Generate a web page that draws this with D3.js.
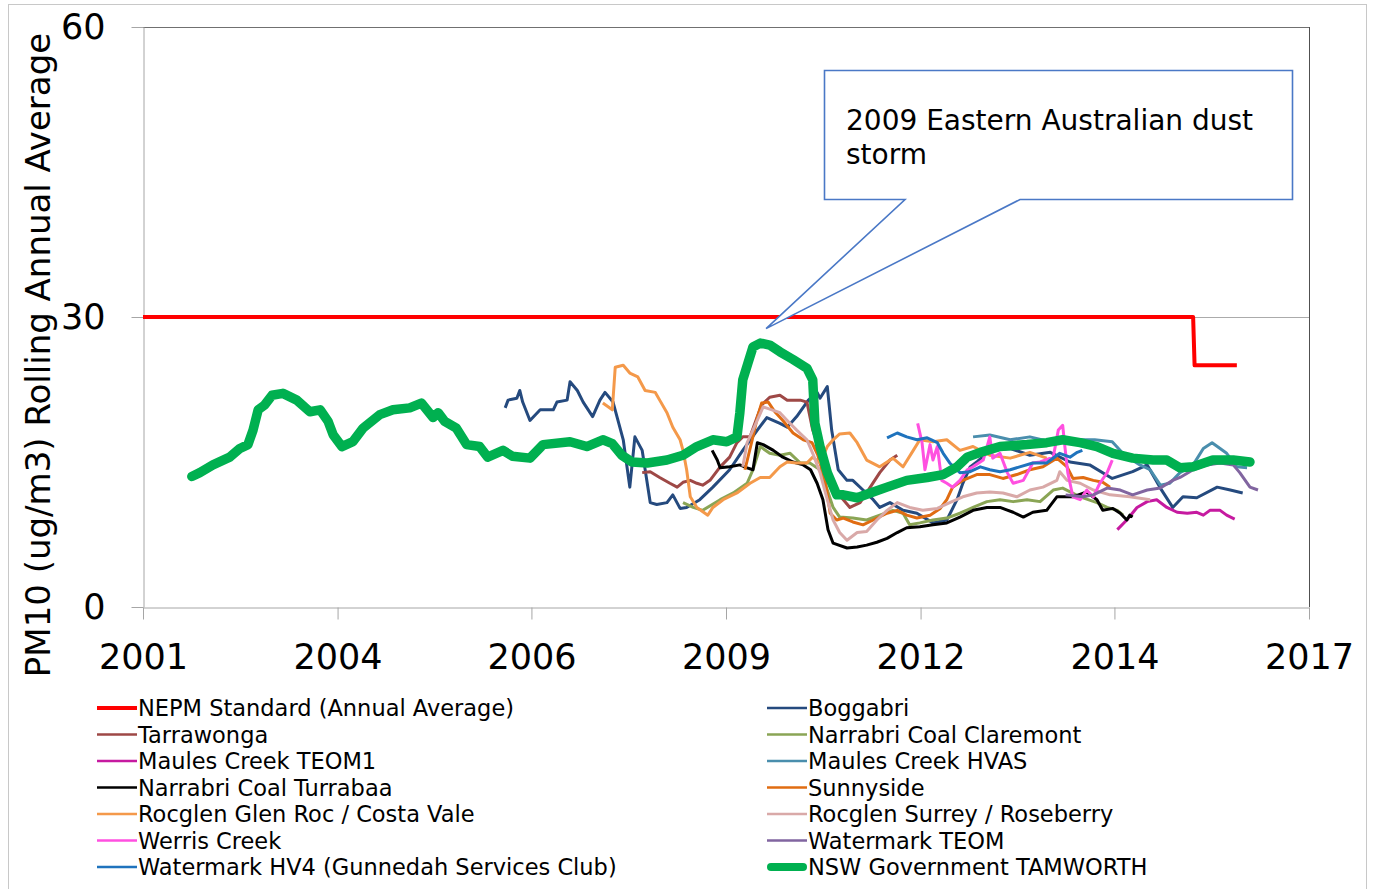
<!DOCTYPE html>
<html>
<head>
<meta charset="utf-8">
<script src="https://cdn.jsdelivr.net/npm/d3@7"></script>
<style>
  body { margin: 0; background: #fff; }
  svg { display: block; font-family: Verdana, "DejaVu Sans", sans-serif; }
</style>
</head>
<body>
<svg width="1374" height="889"></svg>
<script>
// rolling annual average PM10 (decimal year, ug/m3)

var nepm = [[2001.5, 30], [2015.91, 30], [2015.93, 25], [2016.51, 25]];

var tamworth = [[2002.17, 13.5], [2002.28, 13.9], [2002.46, 14.7], [2002.69, 15.5], [2002.83, 16.4], [2002.94, 16.8],
    [2003.01, 18.3], [2003.08, 20.4], [2003.17, 20.9], [2003.27, 21.9], [2003.42, 22.1], [2003.61, 21.4], [2003.79, 20.2],
    [2003.93, 20.4], [2004.04, 19.2], [2004.11, 17.8], [2004.23, 16.6], [2004.38, 17.1], [2004.52, 18.5], [2004.75, 19.9],
    [2004.93, 20.4], [2005.16, 20.6], [2005.32, 21.1], [2005.48, 19.6], [2005.55, 20.1], [2005.64, 19.2], [2005.80, 18.5],
    [2005.94, 16.8], [2006.12, 16.6], [2006.23, 15.5], [2006.44, 16.2], [2006.57, 15.6], [2006.81, 15.4], [2006.99, 16.8],
    [2007.36, 17.1], [2007.59, 16.6], [2007.81, 17.3], [2007.94, 16.9], [2008.07, 15.7], [2008.21, 15.0], [2008.42, 14.9],
    [2008.69, 15.2], [2008.91, 15.7], [2009.10, 16.6], [2009.32, 17.3], [2009.51, 17.1], [2009.65, 17.6], [2009.69, 20.1],
    [2009.73, 23.5], [2009.80, 25.2], [2009.87, 26.9], [2009.97, 27.3], [2010.10, 27.1], [2010.24, 26.4], [2010.42, 25.6],
    [2010.61, 24.7], [2010.69, 23.5], [2010.72, 19.0], [2010.79, 16.6], [2010.89, 13.9], [2011.02, 11.6], [2011.11, 11.6],
    [2011.30, 11.3], [2011.48, 11.8], [2011.71, 12.4], [2011.98, 13.1], [2012.26, 13.4], [2012.48, 13.7], [2012.67, 14.5],
    [2012.81, 15.5], [2012.99, 16.0], [2013.26, 16.6], [2013.63, 16.8], [2013.90, 17.0], [2014.12, 17.3], [2014.36, 17.0],
    [2014.59, 16.6], [2014.81, 15.9], [2015.08, 15.4], [2015.36, 15.2], [2015.55, 15.2], [2015.73, 14.4], [2015.91, 14.5],
    [2016.18, 15.2], [2016.46, 15.2], [2016.69, 15.0]];

var boggabri = [[2006.47, 20.6], [2006.51, 21.4], [2006.63, 21.6], [2006.67, 22.4], [2006.71, 21.2], [2006.81, 19.3],
    [2006.95, 20.4], [2007.13, 20.4], [2007.18, 21.2], [2007.32, 21.4], [2007.36, 23.3], [2007.46, 22.4], [2007.54, 21.2],
    [2007.67, 19.7], [2007.77, 21.4], [2007.84, 22.2], [2007.95, 21.2], [2008.09, 17.3], [2008.18, 12.4], [2008.25, 17.6],
    [2008.35, 16.2], [2008.46, 10.8], [2008.55, 10.6], [2008.69, 10.8], [2008.77, 11.6], [2008.87, 10.2], [2008.96, 10.3],
    [2009.14, 11.1], [2009.32, 12.4], [2009.55, 14.2], [2009.73, 16.2], [2009.93, 18.3], [2010.06, 19.6], [2010.24, 19.0],
    [2010.34, 18.6], [2010.47, 19.7], [2010.63, 21.4], [2010.75, 22.2], [2010.79, 21.6], [2010.89, 22.8], [2010.95, 18.3],
    [2011.04, 14.2], [2011.16, 13.1], [2011.24, 13.1], [2011.38, 12.1], [2011.52, 11.1], [2011.61, 10.3], [2011.75, 10.8],
    [2011.93, 10.0], [2012.12, 9.7], [2012.34, 8.7], [2012.53, 9.0], [2012.67, 11.1], [2012.75, 12.8], [2012.85, 14.5],
    [2012.94, 15.0], [2013.12, 16.2], [2013.40, 16.4], [2013.67, 15.7], [2013.95, 16.0], [2014.22, 15.0], [2014.49, 14.7],
    [2014.80, 13.3], [2015.08, 14.0], [2015.28, 14.7], [2015.46, 12.3], [2015.63, 10.3], [2015.77, 11.4], [2015.96, 11.3],
    [2016.24, 12.4], [2016.42, 12.1], [2016.59, 11.8]];

var tarrawonga = [[2008.35, 13.9], [2008.46, 14.0], [2008.59, 13.4], [2008.73, 12.8], [2008.83, 12.4], [2008.91, 12.9],
    [2009.01, 13.1], [2009.10, 12.8], [2009.18, 12.6], [2009.28, 13.1], [2009.42, 14.5], [2009.55, 15.5], [2009.65, 17.0],
    [2009.73, 17.6], [2009.83, 17.6], [2009.93, 19.7], [2009.99, 20.9], [2010.10, 21.7], [2010.24, 21.9], [2010.34, 21.4],
    [2010.52, 21.4], [2010.61, 21.2], [2010.69, 18.3], [2010.79, 16.2], [2010.89, 14.2], [2010.99, 12.1], [2011.11, 11.1],
    [2011.20, 10.3], [2011.34, 10.8], [2011.48, 12.4], [2011.61, 13.9], [2011.75, 15.2], [2011.85, 15.7]];

var claremont = [[2008.91, 10.8], [2009.05, 10.3], [2009.18, 10.0], [2009.42, 11.1], [2009.60, 11.8], [2009.79, 12.8],
    [2009.87, 14.2], [2009.97, 16.6], [2010.10, 15.9], [2010.24, 15.7], [2010.38, 15.9], [2010.52, 14.9], [2010.65, 14.9],
    [2010.79, 14.2], [2010.89, 12.1], [2010.97, 10.3], [2011.06, 9.3], [2011.24, 9.2], [2011.43, 9.0], [2011.61, 9.5],
    [2011.79, 10.0], [2011.93, 9.7], [2012.02, 8.5], [2012.16, 8.7], [2012.34, 9.0], [2012.53, 9.2], [2012.71, 9.7],
    [2012.89, 10.3], [2013.08, 10.9], [2013.26, 11.1], [2013.44, 10.9], [2013.63, 11.1], [2013.81, 10.9], [2013.99, 12.1],
    [2014.12, 12.3], [2014.36, 11.4], [2014.59, 10.8], [2014.73, 10.3], [2014.87, 10.0], [2014.95, 9.5]];

var maulesTeom1 = [[2014.87, 8.0], [2015.00, 9.0], [2015.14, 10.3], [2015.28, 10.9], [2015.41, 11.1], [2015.55, 10.3],
    [2015.69, 9.8], [2015.83, 9.7], [2015.96, 9.8], [2016.05, 9.5], [2016.14, 10.0], [2016.28, 10.0], [2016.37, 9.5],
    [2016.48, 9.1]];

var maulesHvas = [[2012.89, 17.6], [2013.12, 17.8], [2013.40, 17.3], [2013.67, 17.6], [2013.95, 17.1], [2014.26, 17.3],
    [2014.56, 17.3], [2014.80, 17.1], [2014.97, 15.7], [2015.18, 14.7], [2015.32, 14.2], [2015.46, 12.6], [2015.59, 12.8],
    [2015.73, 13.9], [2015.91, 14.7], [2016.05, 16.4], [2016.17, 17.0], [2016.28, 16.4], [2016.37, 15.9], [2016.51, 14.5],
    [2016.65, 14.4]];

var turrabaa = [[2009.31, 16.2], [2009.38, 15.2], [2009.42, 14.4], [2009.55, 14.5], [2009.69, 14.7], [2009.79, 14.4],
    [2009.87, 14.2], [2009.93, 17.0], [2010.01, 16.8], [2010.15, 16.2], [2010.28, 15.5], [2010.42, 15.0], [2010.56, 14.7],
    [2010.66, 14.2], [2010.75, 12.8], [2010.83, 11.1], [2010.90, 8.0], [2010.97, 6.6], [2011.16, 6.1], [2011.30, 6.2],
    [2011.43, 6.4], [2011.57, 6.7], [2011.71, 7.1], [2011.85, 7.7], [2011.98, 8.2], [2012.16, 8.3], [2012.34, 8.5],
    [2012.53, 8.7], [2012.71, 9.3], [2012.89, 10.0], [2013.08, 10.3], [2013.26, 10.3], [2013.44, 9.8], [2013.58, 9.3],
    [2013.71, 9.8], [2013.90, 10.0], [2014.04, 11.4], [2014.26, 11.4], [2014.45, 11.9], [2014.59, 11.1], [2014.67, 10.0],
    [2014.81, 10.2], [2014.91, 9.7], [2015.00, 9.0], [2015.04, 9.5], [2015.08, 9.3]];

var sunnyside = [[2009.76, 14.2], [2009.86, 17.3], [2009.93, 19.6], [2009.99, 21.1], [2010.08, 21.2], [2010.17, 20.2],
    [2010.28, 19.3], [2010.42, 18.0], [2010.56, 17.3], [2010.68, 17.0], [2010.76, 15.7], [2010.86, 13.1], [2010.93, 9.7],
    [2011.02, 9.0], [2011.11, 9.2], [2011.24, 8.8], [2011.38, 8.5], [2011.52, 9.0], [2011.71, 9.7], [2011.85, 10.0],
    [2011.98, 9.5], [2012.12, 9.2], [2012.30, 9.5], [2012.44, 10.2], [2012.53, 11.1], [2012.61, 12.4], [2012.75, 13.1],
    [2012.94, 13.7], [2013.12, 13.7], [2013.30, 13.3], [2013.49, 13.7], [2013.67, 14.2], [2013.85, 14.5], [2014.04, 15.4],
    [2014.18, 14.5], [2014.26, 13.3], [2014.40, 13.4], [2014.54, 13.1], [2014.67, 12.9], [2014.77, 12.4]];

var glenRoc = [[2007.81, 21.1], [2007.94, 20.4], [2007.98, 24.8], [2008.09, 25.0], [2008.18, 24.2], [2008.29, 23.8],
    [2008.39, 22.4], [2008.53, 22.2], [2008.59, 21.4], [2008.69, 20.1], [2008.77, 18.6], [2008.87, 17.3], [2008.91, 16.2],
    [2008.96, 14.2], [2009.01, 11.4], [2009.10, 10.3], [2009.25, 9.5], [2009.32, 10.3], [2009.46, 11.1], [2009.65, 11.8],
    [2009.83, 12.8], [2009.97, 13.4], [2010.10, 13.4], [2010.24, 14.5], [2010.34, 15.0], [2010.47, 14.9], [2010.61, 14.9],
    [2010.69, 15.5], [2010.79, 14.9], [2010.89, 16.6], [2010.97, 17.3], [2011.06, 17.9], [2011.20, 18.0], [2011.30, 17.0],
    [2011.43, 15.2], [2011.61, 14.5], [2011.79, 15.4], [2011.93, 14.5], [2012.07, 16.2], [2012.16, 17.3], [2012.34, 17.1],
    [2012.53, 17.3], [2012.71, 16.2], [2012.89, 16.6], [2013.12, 15.7], [2013.40, 15.4], [2013.67, 16.0], [2013.90, 15.4]];

var surrey = [[2009.73, 14.5], [2009.79, 17.0], [2009.87, 18.3], [2010.01, 20.7], [2010.13, 20.4], [2010.24, 20.1],
    [2010.34, 19.3], [2010.47, 18.3], [2010.61, 17.3], [2010.69, 15.9], [2010.79, 13.9], [2010.89, 11.1], [2010.97, 9.0],
    [2011.06, 7.7], [2011.16, 6.9], [2011.30, 7.7], [2011.43, 7.8], [2011.57, 9.0], [2011.71, 10.0], [2011.85, 10.8],
    [2012.02, 10.3], [2012.20, 10.0], [2012.40, 10.2], [2012.57, 10.8], [2012.75, 11.4], [2012.94, 11.8], [2013.12, 11.9],
    [2013.30, 11.8], [2013.49, 11.4], [2013.67, 12.1], [2013.85, 12.4], [2014.04, 13.1], [2014.08, 14.0], [2014.18, 13.1],
    [2014.36, 12.8], [2014.54, 12.1], [2014.77, 11.6], [2015.04, 11.4], [2015.32, 11.1]];

var werris = [[2012.13, 19.0], [2012.19, 17.0], [2012.23, 14.2], [2012.30, 16.8], [2012.34, 15.2], [2012.40, 16.6],
    [2012.46, 13.1], [2012.53, 12.8], [2012.61, 12.4], [2012.71, 13.1], [2012.81, 14.2], [2012.89, 14.5], [2013.03, 15.2],
    [2013.12, 17.6], [2013.16, 15.4], [2013.26, 15.9], [2013.36, 13.9], [2013.44, 12.8], [2013.58, 13.1], [2013.71, 14.9],
    [2013.81, 15.0], [2013.99, 15.5], [2014.06, 18.3], [2014.12, 18.8], [2014.15, 16.6], [2014.19, 13.9], [2014.26, 11.4],
    [2014.36, 11.1], [2014.45, 12.1], [2014.54, 11.4], [2014.63, 12.8], [2014.73, 13.9], [2014.80, 15.2]];

var watermarkTeom = [[2014.16, 11.6], [2014.40, 11.4], [2014.54, 11.6], [2014.73, 12.3], [2014.91, 12.1], [2015.08, 11.6],
    [2015.28, 12.1], [2015.46, 12.3], [2015.63, 13.1], [2015.73, 13.4], [2015.91, 14.2], [2016.10, 14.7], [2016.28, 14.9],
    [2016.46, 14.7], [2016.55, 13.9], [2016.69, 12.4], [2016.80, 12.1]];

var watermarkHv4 = [[2011.71, 17.5], [2011.85, 18.0], [2011.98, 17.6], [2012.12, 17.3], [2012.26, 17.5], [2012.40, 17.0],
    [2012.48, 15.9], [2012.57, 14.9], [2012.71, 13.9], [2012.85, 14.0], [2012.99, 14.5], [2013.12, 14.2], [2013.26, 14.0],
    [2013.40, 14.2], [2013.53, 14.5], [2013.71, 14.9], [2013.90, 14.9], [2014.08, 15.9], [2014.22, 15.5], [2014.32, 16.0],
    [2014.39, 16.2]];

// axis ticks: Excel date axis, evenly spaced, labelled with the year of each tick
var xTicks = [2001.5, 2004.17, 2006.83, 2009.5, 2012.17, 2014.83, 2017.5];
var yTicks = [0, 30, 60];

var legendLeft = ["NEPM Standard (Annual Average)", "Tarrawonga", "Maules Creek TEOM1", "Narrabri Coal Turrabaa",
    "Rocglen Glen Roc / Costa Vale", "Werris Creek", "Watermark HV4 (Gunnedah Services Club)"];
var legendRight = ["Boggabri", "Narrabri Coal Claremont", "Maules Creek HVAS", "Sunnyside",
    "Rocglen Surrey / Roseberry", "Watermark TEOM", "NSW Government TAMWORTH"];

var calloutText = ["2009 Eastern Australian dust", "storm"];

// drawing order and data per series
var seriesData = {
    "NEPM Standard (Annual Average)": nepm,
    "Boggabri": boggabri,
    "Tarrawonga": tarrawonga,
    "Narrabri Coal Claremont": claremont,
    "Maules Creek TEOM1": maulesTeom1,
    "Maules Creek HVAS": maulesHvas,
    "Narrabri Coal Turrabaa": turrabaa,
    "Sunnyside": sunnyside,
    "Rocglen Glen Roc / Costa Vale": glenRoc,
    "Rocglen Surrey / Roseberry": surrey,
    "Werris Creek": werris,
    "Watermark TEOM": watermarkTeom,
    "Watermark HV4 (Gunnedah Services Club)": watermarkHv4,
    "NSW Government TAMWORTH": tamworth
};

var styles = {
    "NEPM Standard (Annual Average)": { color: "#ff0000", width: 4 },
    "Boggabri": { color: "#254a7e", width: 3 },
    "Tarrawonga": { color: "#9e4846", width: 3 },
    "Narrabri Coal Claremont": { color: "#8aa555", width: 3 },
    "Maules Creek TEOM1": { color: "#c61aa0", width: 3 },
    "Maules Creek HVAS": { color: "#4a8ead", width: 3 },
    "Narrabri Coal Turrabaa": { color: "#000000", width: 3 },
    "Sunnyside": { color: "#e06c12", width: 3 },
    "Rocglen Glen Roc / Costa Vale": { color: "#f4994a", width: 3 },
    "Rocglen Surrey / Roseberry": { color: "#d9a9a8", width: 3 },
    "Werris Creek": { color: "#ff50e0", width: 3 },
    "Watermark TEOM": { color: "#8165a0", width: 3 },
    "Watermark HV4 (Gunnedah Services Club)": { color: "#1f73bd", width: 3 },
    "NSW Government TAMWORTH": { color: "#00b050", width: 9.5 }
};

var svg = d3.select("svg"),
    width = +svg.attr("width"),
    height = +svg.attr("height");

var margin = { left: 143, right: 1309, top: 27, bottom: 607 };

var x = d3.scaleLinear().domain([2001.5, 2017.5]).range([margin.left, margin.right]);
var y = d3.scaleLinear().domain([0, 60]).range([margin.bottom, margin.top]);

// outer chart border
svg.append("rect")
    .attr("x", 8.5).attr("y", 4.5)
    .attr("width", 1358).attr("height", 890)
    .attr("fill", "none")
    .attr("stroke", "#c8c8c8");

// gridlines
svg.append("g")
    .selectAll("line")
    .data(yTicks.slice(1))
    .enter().append("line")
    .attr("x1", margin.left).attr("x2", margin.right)
    .attr("y1", function (d) { return Math.round(y(d)) + 0.5; })
    .attr("y2", function (d) { return Math.round(y(d)) + 0.5; })
    .attr("stroke", function (d) { return d == 60 ? "#707070" : "#ababab"; })
    .attr("stroke-width", 1);

// plot area right edge
svg.append("line")
    .attr("x1", margin.right + 0.5).attr("x2", margin.right + 0.5)
    .attr("y1", margin.top).attr("y2", margin.bottom)
    .attr("stroke", "#505050");

// axes
var xAxis = svg.append("g")
    .attr("transform", "translate(0," + (margin.bottom + 0.5) + ")")
    .call(d3.axisBottom(x).tickValues(xTicks).tickFormat(function (d) { return Math.floor(d); }).tickSize(12).tickSizeOuter(0));

var yAxis = svg.append("g")
    .attr("transform", "translate(" + (margin.left + 0.5) + ",0)")
    .call(d3.axisLeft(y).tickValues(yTicks).tickSize(12).tickSizeOuter(0));

[xAxis, yAxis].forEach(function (ax) {
    ax.select(".domain").attr("stroke", "#a6a6a6");
    ax.selectAll(".tick line").attr("stroke", "#a6a6a6");
    ax.selectAll(".tick text")
        .attr("fill", "#000")
        .style("font-family", "Verdana, 'DejaVu Sans', sans-serif")
        .style("font-size", "35px");
});
xAxis.selectAll(".tick text").attr("y", 37).attr("dy", "0.71em");
yAxis.selectAll(".tick text").attr("x", -38);

// y axis title
svg.append("text")
    .attr("transform", "translate(38," + 355 + ") rotate(-90)")
    .attr("text-anchor", "middle")
    .attr("dominant-baseline", "central")
    .style("font-size", "34px")
    .attr("fill", "#000")
    .text("PM10 (ug/m3) Rolling Annual Average");

// series lines
var line = d3.line()
    .x(function (d) { return x(d[0]); })
    .y(function (d) { return y(d[1]); });

var plot = svg.append("g");

Object.keys(seriesData).forEach(function (name) {
    plot.append("path")
        .datum(seriesData[name])
        .attr("d", line)
        .attr("fill", "none")
        .attr("stroke", styles[name].color)
        .attr("stroke-width", styles[name].width)
        .attr("stroke-linejoin", "round")
        .attr("stroke-linecap", styles[name].width > 5 ? "round" : "butt");
});

// callout for the dust storm
var callout = svg.append("g");

callout.append("path")
    .attr("d", "M824.5,70.5 L1292.5,70.5 L1292.5,199.5 L1020,199.5 L" + x(2010.05) + "," + y(28.8) + " L905,199.5 L824.5,199.5 Z")
    .attr("fill", "#fff")
    .attr("stroke", "#4a78c6")
    .attr("stroke-width", 1.6);

callout.selectAll("text")
    .data(calloutText)
    .enter().append("text")
    .attr("x", 846)
    .attr("y", function (d, i) { return 130 + i * 34; })
    .style("font-size", "28px")
    .attr("fill", "#000")
    .text(function (d) { return d; });

// legend
var rowY = d3.scalePoint().domain(d3.range(7)).range([708, 867]);

function drawLegend(names, x0) {
    var g = svg.append("g");
    var item = g.selectAll("g")
        .data(names)
        .enter().append("g")
        .attr("transform", function (d, i) { return "translate(" + x0 + "," + rowY(i) + ")"; });

    item.append("line")
        .attr("x1", function (d) { return styles[d].width > 5 ? 4 : 0; })
        .attr("x2", function (d) { return styles[d].width > 5 ? 36 : 40; })
        .attr("stroke", function (d) { return styles[d].color; })
        .attr("stroke-width", function (d) { return styles[d].width > 5 ? 8 : (styles[d].width > 3 ? 4 : 2.5); })
        .attr("stroke-linecap", function (d) { return styles[d].width > 5 ? "round" : "butt"; });

    item.append("text")
        .attr("x", 41)
        .attr("dominant-baseline", "central")
        .style("font-size", "22.5px")
        .attr("fill", "#000")
        .text(function (d) { return d; });
}

drawLegend(legendLeft, 97);
drawLegend(legendRight, 767);
</script>
</body>
</html>
